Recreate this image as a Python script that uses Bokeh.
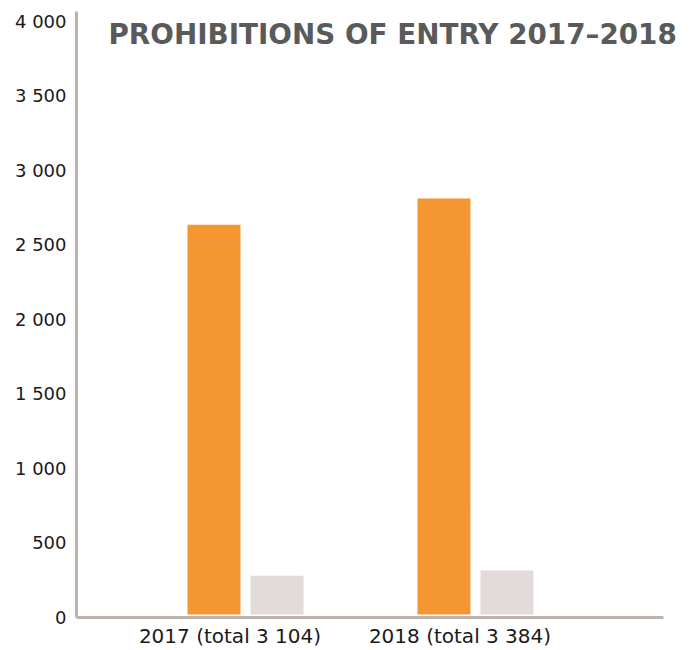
from bokeh.plotting import figure
from bokeh.models import Range1d, FixedTicker, Label, ColumnDataSource
from bokeh.embed import file_html
from bokeh.resources import INLINE
import numpy as np

# ---- data ----
years = ["2017", "2018"]
totals = [3104, 3384]
series_a = [2655, 2830]   # orange
series_b = [300, 335]     # light grey
y_ticks = [0, 500, 1000, 1500, 2000, 2500, 3000, 3500, 4000]
title_text = "PROHIBITIONS OF ENTRY 2017\u20132018"

def spaced(n):
    return f"{n:,}".replace(",", " ")

cat_labels = [f"{y} (total {spaced(t)})" for y, t in zip(years, totals)]
idx = np.arange(len(years))

ORANGE = "#F49733"
GREY = "#E3DBDA"
AXIS = "#BEB2AE"
FONT = "DejaVu Sans"

X_START, X_END = -0.6674, 2.0022
AXIS_END = 1.8848   # where the baseline stops (frame extends further for the title)

p = figure(width=695, height=650, output_backend="svg", toolbar_location=None,
           x_range=Range1d(X_START, X_END), y_range=Range1d(0, 4065),
           min_border_left=76, min_border_right=5, min_border_top=11,
           min_border_bottom=30)
p.outline_line_color = None
p.xgrid.visible = False
p.ygrid.visible = False
p.background_fill_color = "white"
p.border_fill_color = "white"

bar_w = 0.2565
off_a = -0.0696
off_b = 0.2043

src = ColumnDataSource(dict(xa=idx + off_a, xb=idx + off_b, a=series_a, b=series_b))
p.vbar(x="xa", top="a", bottom=0, width=bar_w, source=src,
       fill_color=ORANGE, line_color="white", line_width=6)
p.vbar(x="xb", top="b", bottom=0, width=bar_w, source=src,
       fill_color=GREY, line_color="white", line_width=6)

# axes
xa = p.xaxis[0]
xa.bounds = (X_START, AXIS_END)
xa.ticker = FixedTicker(ticks=list(idx))
xa.major_label_overrides = {int(i): lab for i, lab in zip(idx, cat_labels)}
xa.major_tick_out = 0
xa.major_tick_in = 0
xa.minor_tick_out = 0
xa.minor_tick_in = 0
xa.axis_line_color = AXIS
xa.axis_line_width = 3
xa.major_label_standoff = 6
xa.major_label_text_font = FONT
xa.major_label_text_font_size = "20px"
xa.major_label_text_color = "#1a1a1a"

ya = p.yaxis[0]
ya.ticker = FixedTicker(ticks=y_ticks)
ya.major_label_overrides = {t: spaced(t) for t in y_ticks}
ya.major_tick_out = 0
ya.major_tick_in = 0
ya.minor_tick_out = 0
ya.minor_tick_in = 0
ya.axis_line_color = AXIS
ya.axis_line_width = 3
ya.major_label_standoff = 10
ya.major_label_text_font = FONT
ya.major_label_text_font_size = "18px"
ya.major_label_text_color = "#1a1a1a"

title = Label(x=32, y=583, x_units="screen", y_units="screen", text=title_text,
              text_font=FONT, text_font_style="bold", text_font_size="27.8px",
              text_color="#5A5A5A", text_baseline="alphabetic", text_align="left",
              level="overlay")
p.add_layout(title)

open("out.html", "w").write(file_html(p, INLINE))
